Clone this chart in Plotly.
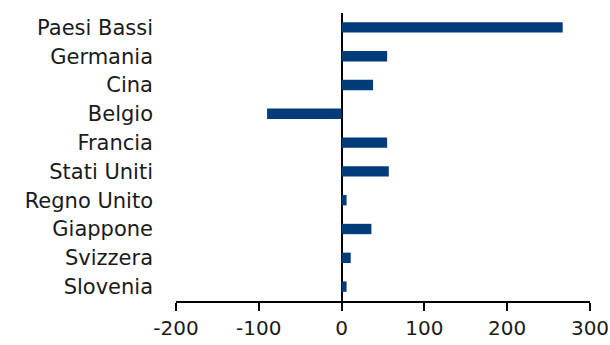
import plotly.graph_objects as go

# Paesi e valori (saldo, milioni)
paesi = ["Paesi Bassi", "Germania", "Cina", "Belgio", "Francia",
         "Stati Uniti", "Regno Unito", "Giappone", "Svizzera", "Slovenia"]
valori = [267, 55, 38, -90, 55, 57, 6, 36, 11, 6]
tick_x = [-200, -100, 0, 100, 200, 300]

font_family = "'DejaVu Sans', Verdana, sans-serif"

fig = go.Figure(
    go.Bar(
        y=paesi,
        x=valori,
        orientation="h",
        marker=dict(color="#003B7A", line=dict(width=0)),
        width=0.36,
    )
)

fig.update_layout(
    width=610,
    height=345,
    margin=dict(l=176, r=20, t=13, b=44),
    paper_bgcolor="white",
    plot_bgcolor="white",
    showlegend=False,
    font=dict(family=font_family, color="#1a1a1a", size=19),
)

fig.update_xaxes(
    range=[-200, 300],
    tickvals=tick_x,
    ticktext=[str(v) for v in tick_x],
    showgrid=False,
    showline=True,
    linecolor="black",
    linewidth=2,
    ticks="outside",
    ticklen=8,
    tickwidth=2,
    tickcolor="black",
    zeroline=True,
    zerolinecolor="black",
    zerolinewidth=2,
    tickfont=dict(size=20),
    automargin=False,
)

fig.update_yaxes(
    categoryorder="array",
    categoryarray=paesi[::-1],
    showgrid=False,
    showline=False,
    ticks="",
    ticklabelstandoff=22,
    tickfont=dict(size=21),
    automargin=False,
)

fig.write_html("out.html")
